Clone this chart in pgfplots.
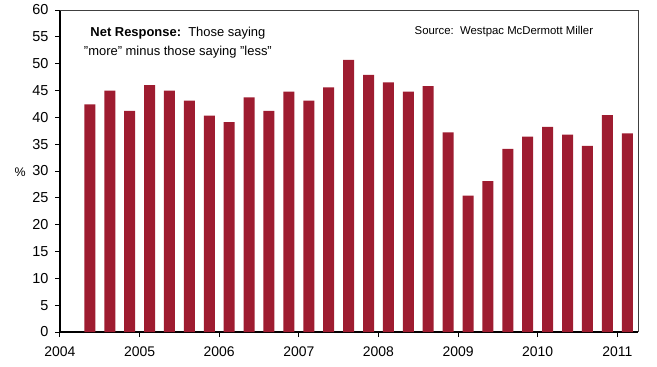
\documentclass[border=0pt]{standalone}
\usepackage{pgfplots}
\pgfplotsset{compat=1.18}
\usepackage{pgfplotstable}
\usepackage{fontspec}
\setmainfont{Liberation Sans}
\definecolor{barred}{RGB}{158,28,48}
\pgfplotstableread{
x y
2004.375 42.4
2004.625 45.0
2004.875 41.2
2005.125 46.0
2005.375 45.0
2005.625 43.1
2005.875 40.3
2006.125 39.1
2006.375 43.7
2006.625 41.2
2006.875 44.8
2007.125 43.1
2007.375 45.6
2007.625 50.7
2007.875 47.9
2008.125 46.5
2008.375 44.8
2008.625 45.8
2008.875 37.2
2009.125 25.4
2009.375 28.1
2009.625 34.1
2009.875 36.4
2010.125 38.2
2010.375 36.8
2010.625 34.7
2010.875 40.4
2011.125 37.0
}\datatable
\begin{document}
\begin{tikzpicture}
\useasboundingbox (-60bp,-35bp) rectangle (597bp,332bp);
\begin{axis}[
  scale only axis,
  width=578bp, height=322bp,
  xmin=2004, xmax=2011.26,
  ymin=0, ymax=60,
  axis x line=bottom, axis y line=left,
  axis line style={-, line width=1.1bp, black},
  tick align=outside,
  major tick length=5bp,
  tick style={line width=1bp, black},
  xtick={2004,2005,...,2011},
  ytick={0,5,...,60},
  /pgf/number format/assume math mode=true,
  /pgf/number format/1000 sep={},
  xticklabel style={font=\fontsize{14}{15}\selectfont, yshift=-6bp},
  yticklabel style={font=\fontsize{14.5}{16}\selectfont, xshift=-3bp},
  ylabel={\%},
  ylabel style={rotate=-90, at={(axis description cs:-0.069,0.497)}, anchor=center, font=\fontsize{12.5}{14}\selectfont},
  clip=false,
]
\addplot[ybar, bar width=11bp, fill=barred, draw=none] table[x=x,y=y] {\datatable};
\draw[line width=0.7bp, black!75] (rel axis cs:0,1) -- (rel axis cs:1,1) -- (rel axis cs:1,0);
\node[align=center, font=\fontsize{13}{19}\selectfont, anchor=center] at (axis description cs:0.204,0.899)
  {\textbf{Net Response:}\ \ Those saying\\"more" minus those saying "less"};
\node[font=\fontsize{11.4}{12}\selectfont, anchor=center] at (axis description cs:0.768,0.932)
  {Source:\ \ Westpac McDermott Miller};
\end{axis}
\end{tikzpicture}
\end{document}
